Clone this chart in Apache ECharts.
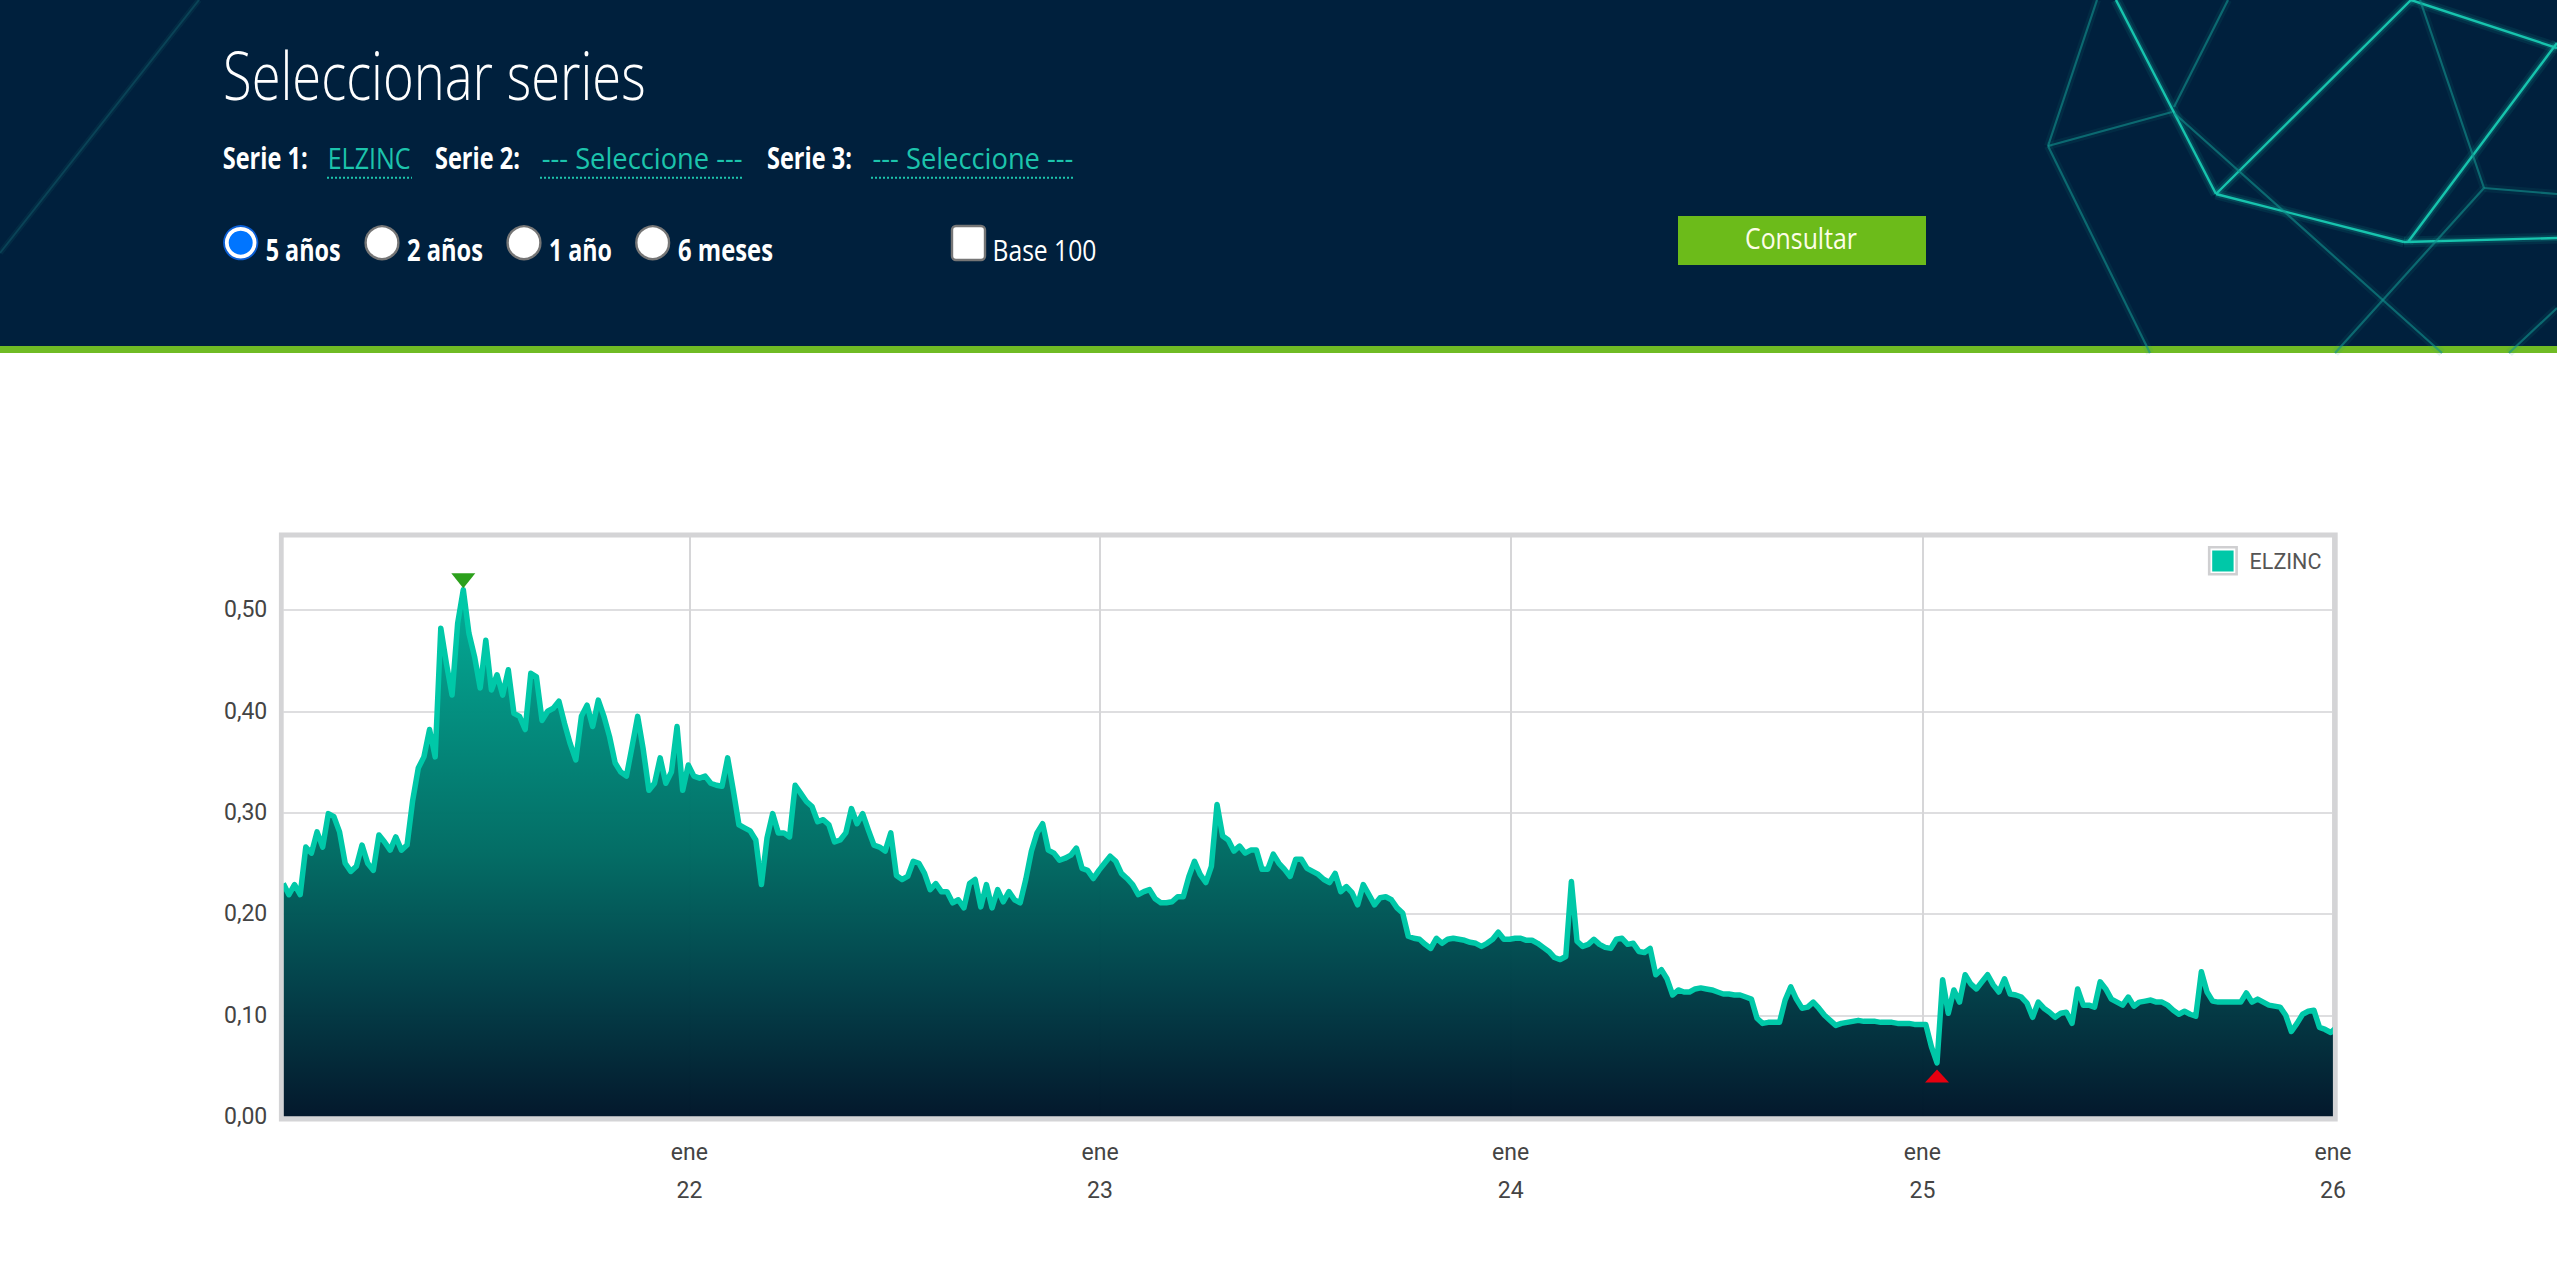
<!DOCTYPE html>
<html><head><meta charset="utf-8"><title>Seleccionar series</title>
<script src="https://cdn.jsdelivr.net/npm/echarts@6/dist/echarts.min.js"></script>
<style>html,body{margin:0;padding:0;background:#fff;overflow:hidden}#c{width:2557px;height:1268px}</style>
</head><body><div id="c"></div>
<script>
const seriesName = 'ELZINC';
const startDate = '2021-01-05';
const stepDays = 5;
const values2021a = [.230,.219,.229,.219,.266,.260,.281,.266,.299,.296,.281,.250,.242,.247,.268,.250,.243,.278,.271,.263,.276,.263,.268,.312,.344,.355,.382,.355,.482,.447,.416,.487,.520,.477,.454,.423,.470,.421,.436,.416];
const values2021b = [.441,.398,.395,.382,.4375,.434,.391,.400,.403,.410,.388,.368,.352,.395,.406,.385,.411,.395,.375,.349,.340,.336,.365,.395,.362,.322,.329,.354,.329,.340,.385,.322,.347,.336];
const values2022a = [.334,.336,.329,.327,.326,.354,.322,.288,.285,.282,.273,.229,.275,.299,.280,.280,.276,.327,.319,.311,.306,.291,.293,.288,.271,.273,.280,.304,.289,.299,.283,.268,.266,.262,.280,.238,.234,.237,.252,.250,.240];
const values2022b = [.224,.230,.222,.222,.211,.214,.206,.230,.234,.207,.229,.206,.224,.212,.222,.214,.211,.234,.262,.280,.289,.263,.260,.253,.255,.258,.265,.245,.243,.235,.243,.250,.257,.252,.240,.235,.229,.219,.222,.224,.215,.211,.211,.212];
const values2023a = [.217,.217,.237,.252,.239,.231,.247,.308,.277,.273,.262,.267,.260,.263,.263,.244,.244,.259,.250,.244,.237,.254,.254,.245,.242,.239,.234,.231,.240,.222,.227,.221,.209,.229,.219,.209,.216,.217,.214,.206];
const values2023b = [.201,.178,.176,.175,.170,.166,.176,.171,.175,.176,.175,.174,.172,.171,.168,.171,.175,.182,.175,.175,.176,.176,.174,.174,.171,.167,.163,.157,.155,.158,.232,.173,.168,.170,.175,.170,.167,.166,.175,.176,.170,.171,.163,.162,.166];
const values2024 = [.140,.145,.136,.120,.125,.123,.123,.126,.127,.126,.125,.123,.121,.121,.120,.120,.118,.116,.097,.092,.093,.093,.093,.115,.128,.116,.107,.108,.113,.107,.100,.095,.090,.092,.093,.094,.095,.094,.094,.094,.093,.093,.093,.092,.092,.092,.091,.091,.091,.069,.053];
const values2025 = [.135,.102,.125,.113,.140,.131,.126,.133,.140,.130,.123,.136,.121,.120,.118,.112,.098,.113,.107,.103,.098,.102,.103,.092,.126,.110,.110,.108,.133,.126,.116,.113,.110,.118,.109,.113,.114,.115,.113,.113,.110,.105,.101,.104,.101,.099,.143,.123,.114,.113,.113,.113,.113,.113,.122,.113,.116,.113,.110,.109,.108,.100,.084,.092,.101,.104,.105,.088,.086,.083,.088];
const xTickDates = ['2022-01-01','2023-01-01','2024-01-01','2025-01-01','2026-01-01'];
const xTickLabels = ['ene\n22','ene\n23','ene\n24','ene\n25','ene\n26'];
const yTicks = [0,.1,.2,.3,.4,.5];
const yTickLabels = ['0,00','0,10','0,20','0,30','0,40','0,50'];

const allValues = [].concat(values2021a,values2021b,values2022a,values2022b,values2023a,values2023b,values2024,values2025);
const DAY = 86400000, t0 = Date.parse(startDate+'T00:00:00Z');
const dataPairs = allValues.map((v,i)=>[t0+i*stepDays*DAY, v]);
const tickTimes = xTickDates.map(d=>Date.parse(d+'T00:00:00Z'));

const cv = document.createElement('canvas').getContext('2d');
function txt(s,x,base,size,weight,color,w,fam){
  fam = fam||'"Open Sans"';
  cv.font = weight+' '+size+'px '+fam;
  const m = cv.measureText(s).width;
  return {type:'text',x:x,y:base-0.865*size,scaleX:w?w/m:1,originX:0,originY:0,silent:true,z:20,
    style:{text:s,x:0,y:0,fill:color,font:weight+' '+size+'px '+fam,align:'left'}};
}
const brightLines = [[2116,0,2216,194],[2216,194,2411,0],[2411,0,2557,48],[2216,194,2404,242],[2404,242,2557,238],[2408,242,2557,43]];
const dimLines = [[2097,0,2048,146],[2048,146,2172,112],[2048,146,2150,353],[2228,0,2174,107],[2174,113,2442,353],[2420,0,2484,188],[2484,188,2557,194],[2484,188,2335,353],[2557,308,2509,353]];
const faintLines = [[199,0,0,253]];
function seg(l,color,width,op){return {type:'line',silent:true,z:8,shape:{x1:l[0],y1:l[1],x2:l[2],y2:l[3]},style:{stroke:color,lineWidth:width,opacity:op}};}
const deco=[];
brightLines.forEach(l=>{deco.push(seg(l,'#15b8a6',11,.10));deco.push(seg(l,'#15b8a6',6,.18));deco.push(seg(l,'#17c4ae',2.4,1));});
dimLines.forEach(l=>{deco.push(seg(l,'#12908c',8,.10));deco.push(seg(l,'#12908c',2.2,.62));});
faintLines.forEach(l=>{deco.push(seg(l,'#0d4a5c',6,.25));deco.push(seg(l,'#0d4a5c',2,.8));});

function radio(cx,sel){
  const cy=242.7;
  if(sel) return [
    {type:'circle',silent:true,z:20,shape:{cx,cy,r:17.6},style:{fill:'#0b5fd6'}},
    {type:'circle',silent:true,z:20,shape:{cx,cy,r:15.8},style:{fill:'#fff'}},
    {type:'circle',silent:true,z:20,shape:{cx,cy,r:12},style:{fill:'#0075ff'}}];
  return [{type:'circle',silent:true,z:20,shape:{cx,cy,r:16.4},style:{fill:'#fff',stroke:'#767676',lineWidth:2.4}}];
}
function dotted(x1,x2){return {type:'line',silent:true,z:20,shape:{x1,y1:177.7,x2,y2:177.7},style:{stroke:'#1cc4ac',lineWidth:2,lineDash:[2,2]}};}
const TEAL='#1cc4ac';
const graphicEls=[
  {type:'rect',silent:true,z:6,shape:{x:0,y:0,width:2557,height:346},style:{fill:'#00203d'}},
  {type:'rect',silent:true,z:7,shape:{x:0,y:346,width:2557,height:7},style:{fill:'#70bb24'}},
  ...deco,
  txt('Seleccionar series',223,98,66,300,'#fff',423),
  txt('Serie 1:',222.7,168,30,700,'#fff',85),
  txt('ELZINC',327.7,168,30,400,TEAL,83),dotted(327,412),
  txt('Serie 2:',435,168,30,700,'#fff',85),
  txt('--- Seleccione ---',541.7,168,30,400,TEAL,201),dotted(540,743),
  txt('Serie 3:',767,168,30,700,'#fff',85),
  txt('--- Seleccione ---',872.5,168,30,400,TEAL,201),dotted(871,1074),
  ...radio(240.7,true),txt('5 años',265.7,260,30,700,'#fff',75),
  ...radio(382,false),txt('2 años',407,260,30,700,'#fff',76),
  ...radio(524,false),txt('1 año',549,260,30,700,'#fff',63),
  ...radio(652.7,false),txt('6 meses',678,260,30,700,'#fff',95),
  {type:'rect',silent:true,z:20,shape:{x:952,y:226,width:33,height:34,r:4},style:{fill:'#fff',stroke:'#767676',lineWidth:2.4}},
  txt('Base 100',992.5,260,30,400,'#fff',104),
  {type:'rect',silent:true,z:20,shape:{x:1678,y:216,width:248,height:49},style:{fill:'#6cbb1a'}},
  txt('Consultar',1745,249,30,400,'#fdfde8',112),
  {type:'rect',silent:true,z:10,shape:{x:281.3,y:535,width:2054,height:584},style:{fill:'none',stroke:'#d4d4d6',lineWidth:4.8}},
  {type:'rect',silent:true,z:3,shape:{x:2209.2,y:547.2,width:27.4,height:27},style:{fill:'#fff',stroke:'#cfcfd1',lineWidth:2.6}}
];

const chart = echarts.init(document.getElementById('c'),null,{renderer:'svg'});
chart.setOption({
  animation:false,
  backgroundColor:'#fff',
  graphic:{elements:graphicEls},
  legend:{left:2212.2,top:550,padding:0,itemWidth:21.4,itemHeight:21,
    data:[{name:seriesName,icon:'rect',itemStyle:{color:'#00c8a8',borderWidth:0}}],
    textStyle:{color:'#555',fontSize:21.5,fontFamily:'Roboto',padding:[0,0,0,11]}},
  grid:{left:283.3,top:537,width:2049.7,height:579.6,show:false,containLabel:false},
  xAxis:{type:'value',min:t0,max:tickTimes[4],
    axisLine:{show:false},
    axisTick:{show:false,customValues:tickTimes},
    axisLabel:{customValues:tickTimes,margin:17,color:'#444',fontSize:23,fontFamily:'Roboto',lineHeight:38,align:'center',hideOverlap:false,showMinLabel:true,showMaxLabel:true,
      formatter:(v)=>{const i=tickTimes.indexOf(+v);return i>=0?xTickLabels[i]:'';}},
    splitLine:{show:true,lineStyle:{color:'#d6d6d8',width:2}}},
  yAxis:{type:'value',min:0,max:.572,
    axisLine:{show:false},
    axisTick:{show:false,customValues:yTicks},
    axisLabel:{customValues:yTicks,margin:16,color:'#444',fontSize:23,fontFamily:'Roboto',padding:[2,0,0,0],
      formatter:(v)=>{const i=yTicks.findIndex(t=>Math.abs(t-v)<1e-6);return i>=0?yTickLabels[i]:'';}},
    splitLine:{show:true,lineStyle:{color:'#dedee0',width:2}}},
  series:[{name:seriesName,type:'line',data:dataPairs,showSymbol:false,smooth:false,z:2,
    lineStyle:{color:'#00c8a8',width:5.5,join:'round'},
    itemStyle:{color:'#00c8a8'},
    areaStyle:{opacity:.985,color:new echarts.graphic.LinearGradient(0,0,0,1,[
      {offset:0,color:'#00ab95'},{offset:.5,color:'#006b63'},{offset:.75,color:'#003f48'},{offset:1,color:'#001529'}])},
    markPoint:{silent:true,label:{show:false},animation:false,data:[
      {type:'max',valueDim:'y',symbol:'triangle',symbolRotate:180,symbolSize:[24,15],symbolOffset:[0,-9],itemStyle:{color:'#2ca01c'}},
      {type:'min',valueDim:'y',symbol:'triangle',symbolSize:[24,13],symbolOffset:[0,13],itemStyle:{color:'#e6000f'}}
    ]}
  }]
});
</script></body></html>
